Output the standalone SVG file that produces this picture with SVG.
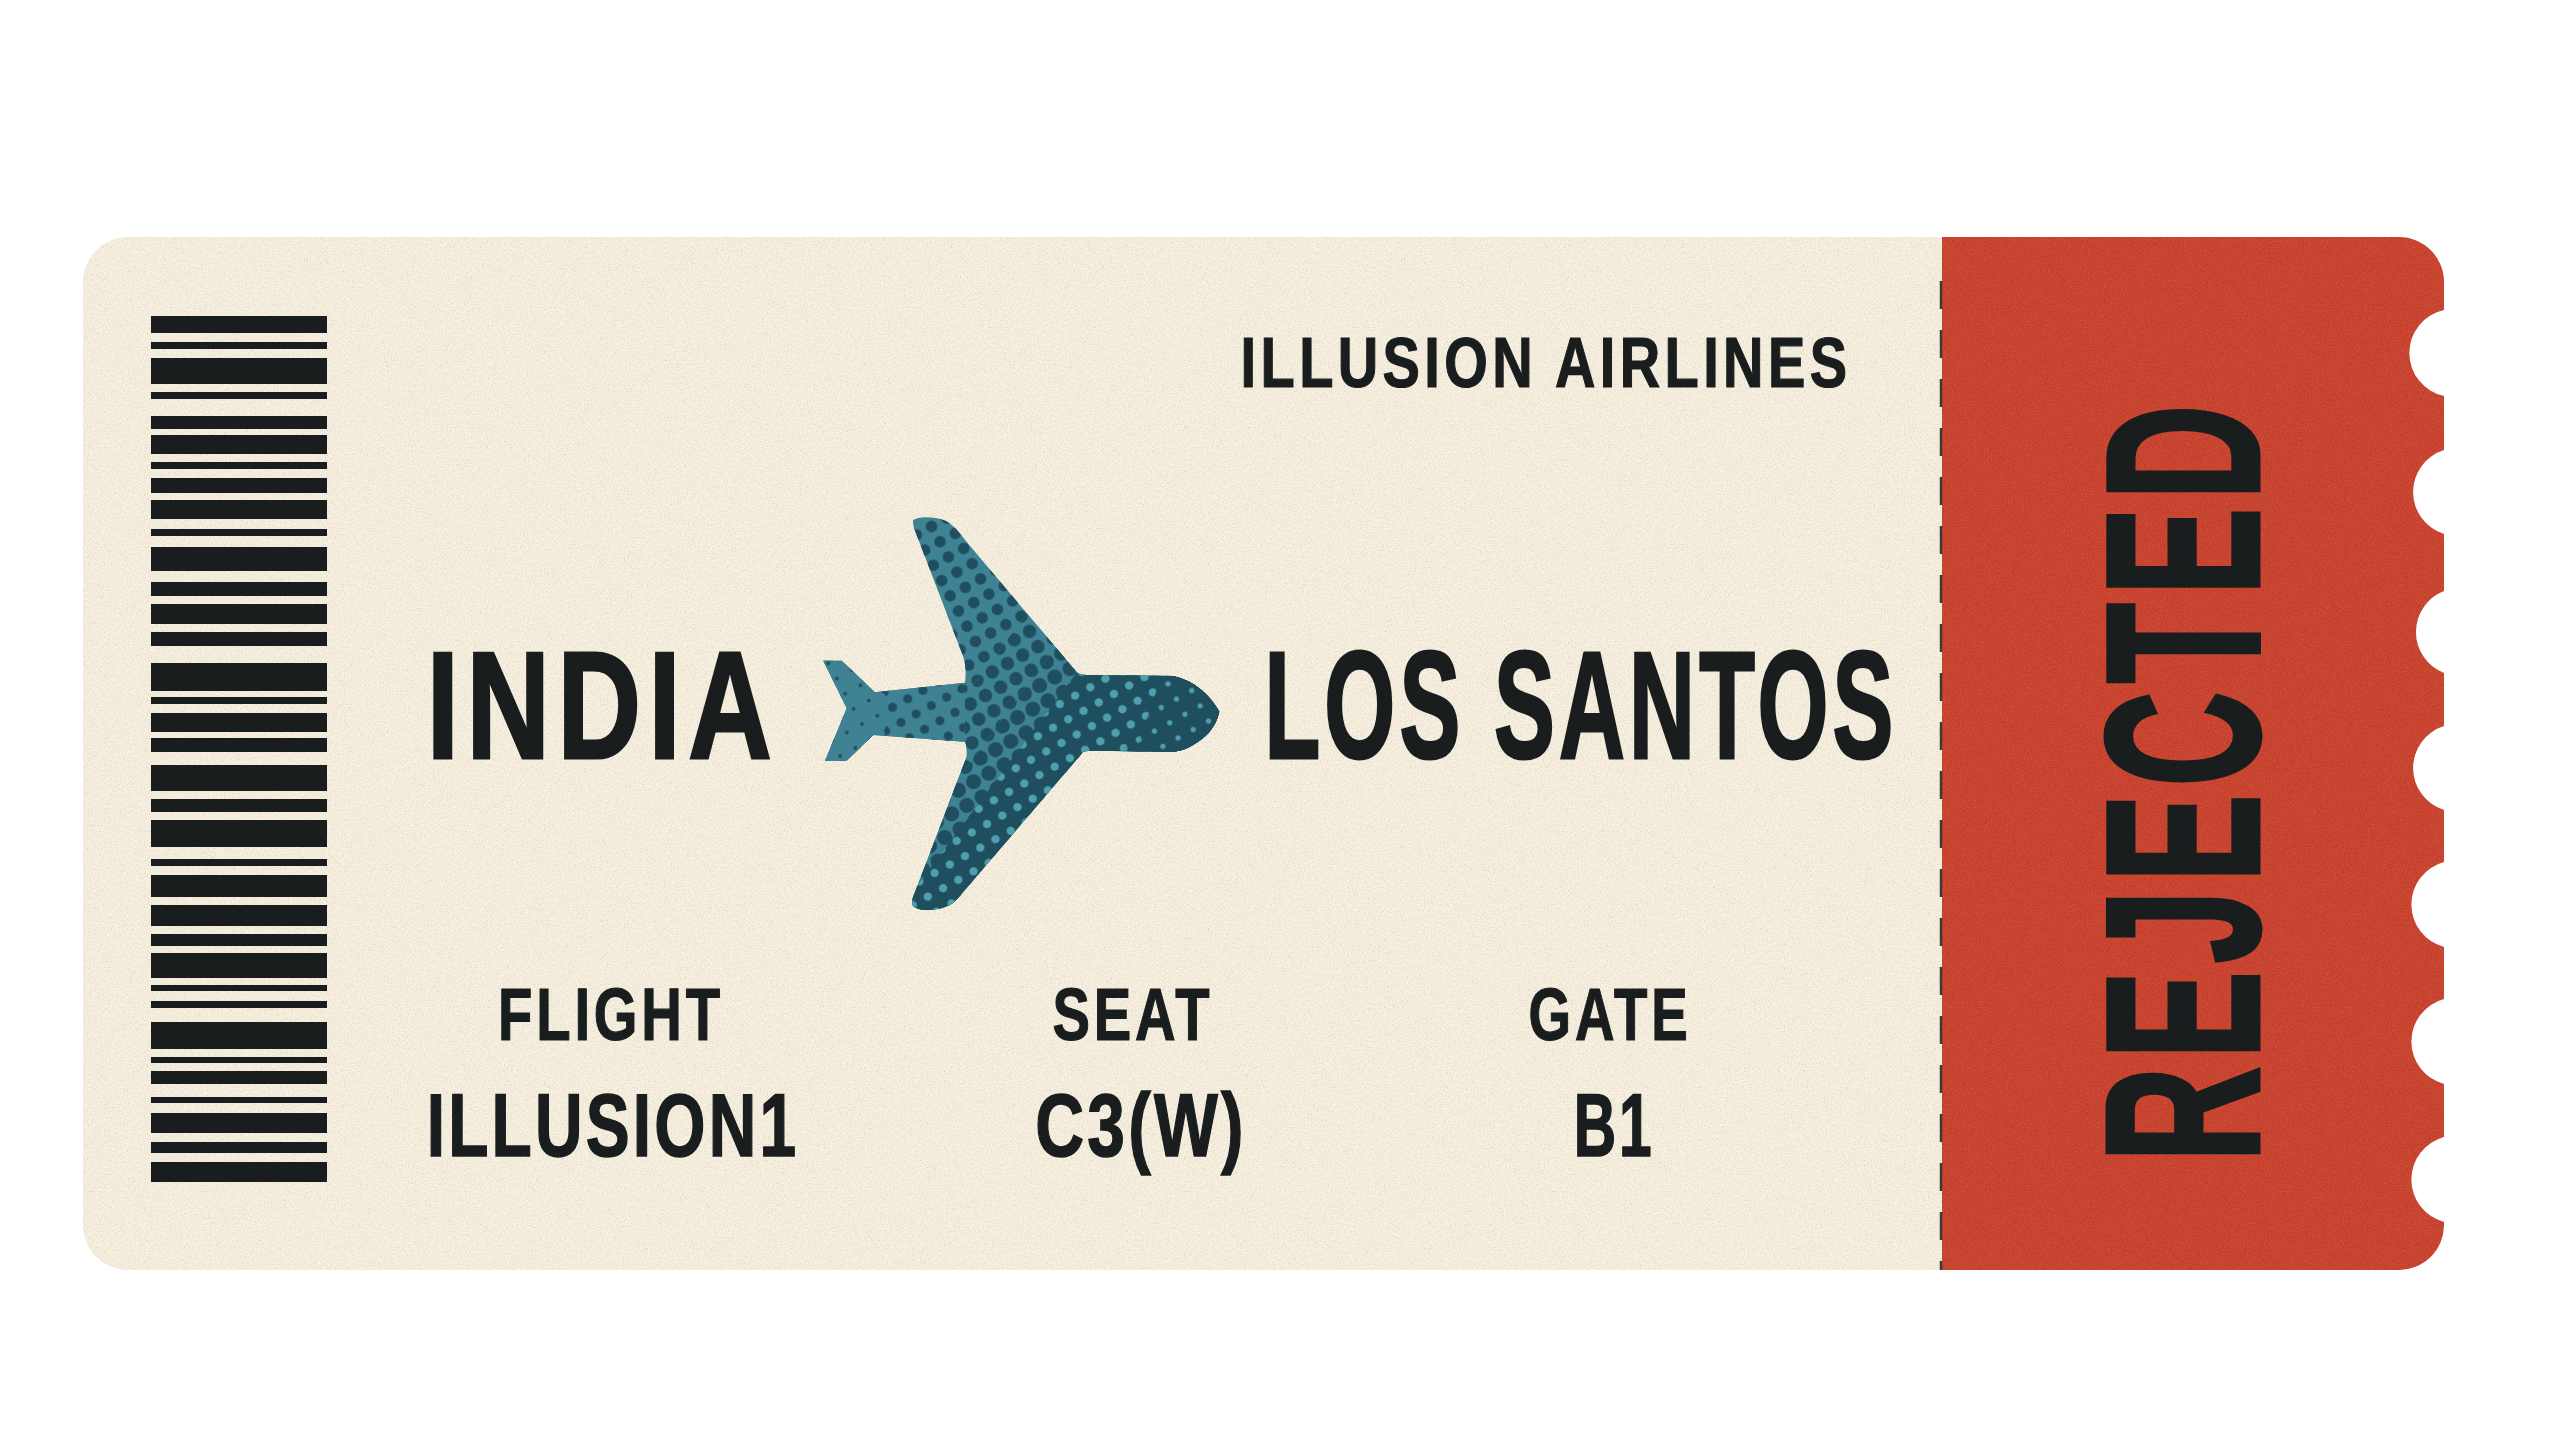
<svg xmlns="http://www.w3.org/2000/svg" width="2560" height="1440" viewBox="0 0 2560 1440">
<defs>
<style>
.b{fill:#191d1e}
.t{font-family:"Liberation Sans",Arial,sans-serif;font-weight:700;fill:#191d1e;stroke:#191d1e;text-anchor:middle}
.s{font-size:70px;stroke-width:1.2px;letter-spacing:5.5px}
.l{font-size:152px;stroke-width:3px}
.h{font-size:74px;stroke-width:1.2px;letter-spacing:5px}
.v{font-size:89px;stroke-width:1.5px;letter-spacing:4.3px}
</style>
<clipPath id="planeClip"><path d="M1219.3 711.7C1210 695 1195 681 1173.3 676L1086.7 675C1082 675 1079 674 1076.7 672.3L965 540C958 530 950 522 943.3 520C935 517 920 516 913.3 520C913 522 913 525 914 528.3L963.3 656.7C966 665 966 675 965 682.7L875 692.3L841.7 660.7H823.3L846.7 708.3L825 760.7H846.7L873.3 735L965 741.7C967 746 967 752 966.7 756.7L912.7 898.3C912 902 912 904 913.3 906.7C918 909 922 910 926.7 910C935 910 944 908 950 905C955 902 960 896 963.3 891.7L1083.3 751.7C1086 751 1090 750.7 1093.3 750.7L1173.3 751.7C1182 751 1188 748 1193 745C1205 738 1216 728 1219.3 711.7Z"/></clipPath>
<pattern id="d0" patternUnits="userSpaceOnUse" width="17.4" height="17.4" patternTransform="translate(940 541.7) rotate(-29) translate(-8.7 -8.7)"><circle cx="8.7" cy="8.7" r="2" fill="#1f4f5e"/></pattern>
<pattern id="d1" patternUnits="userSpaceOnUse" width="17.4" height="17.4" patternTransform="translate(940 541.7) rotate(-29) translate(-8.7 -8.7)"><circle cx="8.7" cy="8.7" r="4.6" fill="#1f4f5e"/></pattern>
<pattern id="d2" patternUnits="userSpaceOnUse" width="17.4" height="17.4" patternTransform="translate(940 541.7) rotate(-29) translate(-8.7 -8.7)"><circle cx="8.7" cy="8.7" r="5.8" fill="#1f4f5e"/></pattern>
<pattern id="d3" patternUnits="userSpaceOnUse" width="17.4" height="17.4" patternTransform="translate(940 541.7) rotate(-29) translate(-8.7 -8.7)"><circle cx="8.7" cy="8.7" r="6.7" fill="#1f4f5e"/></pattern>
<pattern id="d4" patternUnits="userSpaceOnUse" width="17.4" height="17.4" patternTransform="translate(940 541.7) rotate(-29) translate(-8.7 -8.7)"><circle cx="8.7" cy="8.7" r="7.6" fill="#1f4f5e"/></pattern>
<pattern id="l1" patternUnits="userSpaceOnUse" width="17.4" height="17.4" patternTransform="translate(940 541.7) rotate(-29)"><circle cx="8.7" cy="8.7" r="4.2" fill="#4f9fb0"/></pattern>
<pattern id="l2" patternUnits="userSpaceOnUse" width="17.4" height="17.4" patternTransform="translate(940 541.7) rotate(-29)"><circle cx="8.7" cy="8.7" r="3.4" fill="#4f9fb0"/></pattern>
<pattern id="l3" patternUnits="userSpaceOnUse" width="17.4" height="17.4" patternTransform="translate(940 541.7) rotate(-29)"><circle cx="8.7" cy="8.7" r="2.6" fill="#4f9fb0"/></pattern>
<filter id="grain" x="0" y="0" width="100%" height="100%"><feTurbulence type="fractalNoise" baseFrequency="0.7" numOctaves="2" seed="4" result="n"/><feColorMatrix in="n" type="matrix" values="0 0 0 0 0.35  0 0 0 0 0.25  0 0 0 0 0.1  0.5 0.5 0 0 -0.44"/><feComposite in2="SourceGraphic" operator="in" result="g"/><feComposite in="g" in2="SourceGraphic" operator="over"/></filter>
<clipPath id="ticketClip"><path d="M128 237H2399A45 45 0 0 1 2444 282V310A44 44 0 0 0 2444 396V450A44 44 0 0 0 2444 534V591A44 44 0 0 0 2444 673V726A44 44 0 0 0 2444 810V862A44 44 0 0 0 2444 947V999A44 44 0 0 0 2444 1084V1137A44 44 0 0 0 2444 1222V1225A45 45 0 0 1 2399 1270H128A45 45 0 0 1 83 1225V282A45 45 0 0 1 128 237Z"/></clipPath>
</defs>
<rect width="2560" height="1440" fill="#ffffff"/>
<g id="ticket">
<g clip-path="url(#ticketClip)">
<rect id="body" x="80" y="235" width="1862" height="1037" fill="#f8f1e2" filter="url(#grain)"/>
<rect id="stub" x="1942" y="235" width="504" height="1037" fill="#ca3c2c" filter="url(#grain)"/>
</g>
<line id="perforation" x1="1941" y1="281" x2="1941" y2="1270" stroke="#3d3b38" stroke-width="2.5" stroke-dasharray="28 21"/>
</g>
<g id="barcode" class="b">
<rect x="151" y="316" width="176" height="17"/><rect x="151" y="342" width="176" height="7"/><rect x="151" y="358" width="176" height="26"/><rect x="151" y="392" width="176" height="7"/><rect x="151" y="416" width="176" height="13"/><rect x="151" y="435" width="176" height="19"/><rect x="151" y="462" width="176" height="7"/><rect x="151" y="478" width="176" height="15"/><rect x="151" y="500" width="176" height="19"/><rect x="151" y="529" width="176" height="7"/><rect x="151" y="547" width="176" height="24"/><rect x="151" y="582" width="176" height="14"/><rect x="151" y="604" width="176" height="20"/><rect x="151" y="632" width="176" height="14"/><rect x="151" y="663" width="176" height="28"/><rect x="151" y="697" width="176" height="7"/><rect x="151" y="713" width="176" height="19"/><rect x="151" y="738" width="176" height="14"/><rect x="151" y="765" width="176" height="26"/><rect x="151" y="799" width="176" height="13"/><rect x="151" y="820" width="176" height="27"/><rect x="151" y="859" width="176" height="7"/><rect x="151" y="875" width="176" height="22"/><rect x="151" y="905" width="176" height="21"/><rect x="151" y="934" width="176" height="12"/><rect x="151" y="953" width="176" height="25"/><rect x="151" y="985" width="176" height="6"/><rect x="151" y="1001" width="176" height="7"/><rect x="151" y="1022" width="176" height="27"/><rect x="151" y="1057" width="176" height="6"/><rect x="151" y="1071" width="176" height="13"/><rect x="151" y="1097" width="176" height="6"/><rect x="151" y="1113" width="176" height="20"/><rect x="151" y="1142" width="176" height="11"/><rect x="151" y="1162" width="176" height="20"/>
</g>
<g id="plane" clip-path="url(#planeClip)">
<rect x="800" y="500" width="440" height="430" fill="#3f8294"/>
<rect x="800" y="500" width="440" height="430" fill="url(#d2)"/>
<polygon points="1112,500 1181,500 859,930 790,930" fill="#3f8294"/>
<polygon points="1112,500 1181,500 859,930 790,930" fill="url(#d3)"/>
<polygon points="1165,500 1240,500 1240,930 846,930" fill="#3f8294"/>
<polygon points="1165,500 1240,500 1240,930 846,930" fill="url(#d4)"/>
<polygon points="1206,500 1240,500 1240,930 884,930" fill="#1f4f5e"/>
<polygon points="1206,500 1240,500 1240,930 884,930" fill="url(#l1)"/>
<polygon points="1310,500 1240,600 1240,930 988,930" fill="#1f4f5e"/>
<polygon points="1310,500 1240,600 1240,930 988,930" fill="url(#l2)"/>
<polygon points="1240,560 1240,930 1100,860 1160,680" fill="#1f4f5e"/>
<polygon points="1240,560 1240,930 1100,860 1160,680" fill="url(#l3)"/>
<rect x="885" y="670" width="80" height="80" fill="#3f8294"/>
<rect x="885" y="670" width="80" height="80" fill="url(#d1)"/>
<rect x="800" y="640" width="85" height="140" fill="#3f8294"/>
<rect x="800" y="640" width="85" height="140" fill="url(#d0)"/>
</g>
<g id="labels">
<text class="t s" transform="translate(1546 387) scale(.8 1)">ILLUSION AIRLINES</text>
<text class="t l" letter-spacing="10" transform="translate(603 758) scale(.76 1)">INDIA</text>
<text class="t l" letter-spacing="7" transform="translate(1581 758) scale(.6 1)">LOS SANTOS</text>
<text class="t h" transform="translate(611 1040) scale(.76 1)">FLIGHT</text>
<text class="t h" transform="translate(1133 1040) scale(.76 1)">SEAT</text>
<text class="t h" transform="translate(1610 1040) scale(.74 1)">GATE</text>
<text class="t v" transform="translate(613 1156) scale(.74 1)">ILLUSION1</text>
<text class="t v" transform="translate(1141 1156) scale(.76 1)">C3(W)</text>
<text class="t v" letter-spacing="7" transform="translate(1614 1156) scale(.66 1)">B1</text>
<text class="t" font-size="218" stroke-width="5" letter-spacing="14" transform="translate(2258 779) rotate(-90) scale(.6 1)">REJECTED</text>
</g>
</svg>
